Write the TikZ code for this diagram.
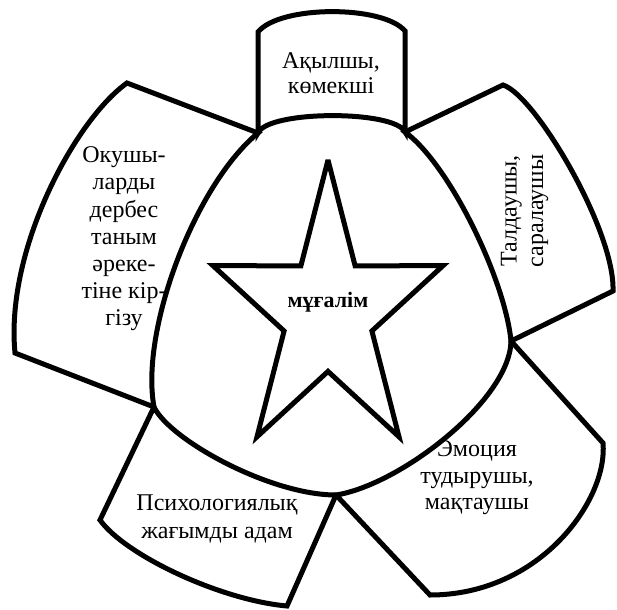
\documentclass[tikz,border=0pt]{standalone}
\usepackage{fontspec}
\setmainfont{Liberation Serif}
\begin{document}
\begin{tikzpicture}[x=1pt,y=-1pt,
  shapeline/.style={draw=black,line width=5pt,line join=miter,miter limit=4},
  lbl/.style={align=center,inner sep=0pt,font=\fontsize{24}{26.5}\selectfont}]
\useasboundingbox (0,0) rectangle (617,609);
% central corners
\coordinate (TL) at (258,133);
\coordinate (TR) at (405,132);
\coordinate (R) at (511,341);
\coordinate (B) at (336,495);
\coordinate (L) at (154,407);
% top petal
\draw[shapeline] (TL) -- (258,32) .. controls (280,5) and (383,5) .. (405,31) -- (TR)
  .. controls (395,110) and (268,110) .. (TL) -- cycle;
% right petal
\draw[shapeline] (TR) -- (503,85) .. controls (535,95) and (615,230) .. (613,291) -- (R)
  .. controls (505,280) and (450,165) .. (TR) -- cycle;
% emotion petal
\draw[shapeline] (R) -- (603,443) .. controls (608,500) and (540,595) .. (430,595) -- (B)
  .. controls (400,485) and (510,400) .. (R) -- cycle;
% psych petal
\draw[shapeline] (B) -- (287,606) .. controls (220,600) and (125,555) .. (100,520) -- (L)
  .. controls (170,440) and (270,495) .. (B) -- cycle;
% left petal
\draw[shapeline] (L) -- (15,353) .. controls (5,250) and (75,120) .. (127,83) -- (TL)
  .. controls (195,185) and (140,330) .. (L) -- cycle;
% star
\draw[shapeline] (328,160) -- (355.1,265.8) -- (443,265.7) -- (371.9,331) -- (399,436.8)
  -- (328,371.4) -- (257,436.8) -- (284.1,331) -- (213,265.7) -- (300.9,265.8) -- cycle;
% labels
\node[lbl,font=\fontsize{24}{25}\selectfont] (top) at (331,73) {Ақылшы,\\көмекші};
\node[lbl,font=\fontsize{24}{27.2}\selectfont] (left) at (124,239) {Окушы-\\ларды\\дербес\\таным\\әреке-\\тіне кір-\\гізу};
\node[lbl,rotate=90] (right) at (524.5,211) {Талдаушы,\\саралаушы};
\node[lbl] (emo) at (477,478) {Эмоция\\тудырушы,\\мақтаушы};
\node[lbl,font=\fontsize{24}{28}\selectfont] (psy) at (217,519) {Психологиялық\\жағымды адам};
\node[lbl,font=\fontsize{22}{26}\selectfont\bfseries] (center) at (328,302) {мұғалім};
\end{tikzpicture}
\end{document}
